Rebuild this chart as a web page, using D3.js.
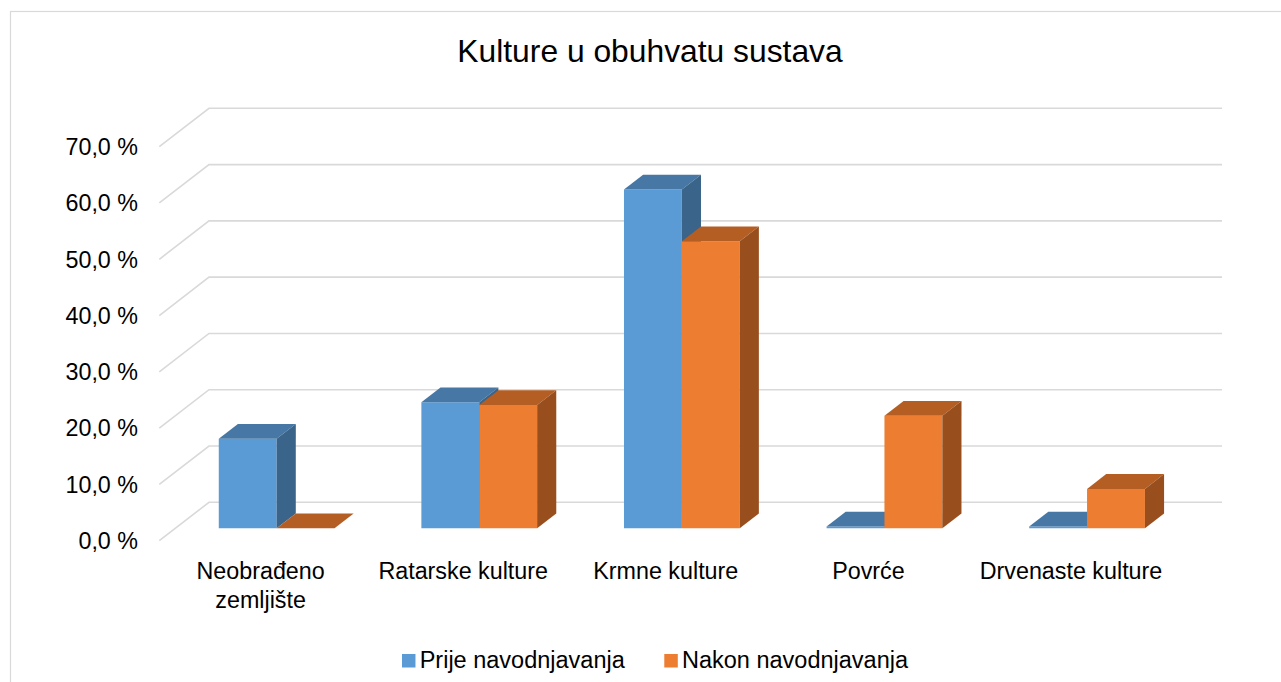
<!DOCTYPE html>
<html>
<head>
<meta charset="utf-8">
<script src="https://cdn.jsdelivr.net/npm/d3@7"></script>
<style>
    body { margin: 0; background: #fff; }
    svg text { font-family: "Liberation Sans", Arial, sans-serif; fill: #000; }
</style>
</head>
<body>
<svg id="chart" width="1281" height="682"></svg>
<script>
// Kulture u obuhvatu sustava — 3D clustered column chart

const categories = ['Neobrađeno zemljište', 'Ratarske kulture', 'Krmne kulture', 'Povrće', 'Drvenaste kulture'];
const seriesNames = ['Prije navodnjavanja', 'Nakon navodnjavanja'];
const prije = [15.9, 22.4, 60.2, 0.3, 0.3];
const nakon = [0, 21.9, 51.0, 20.0, 7.0];
const yTicks = [0, 10, 20, 30, 40, 50, 60, 70];

const WIDTH = 1281;
const HEIGHT = 682;

// oblique depth offset (front plane -> back wall)
const DX = 49.7;
const DY = 38.4;
// bars sit between these depth fractions
const Z0 = 0.323;
const Z1 = 0.708;

const colors = {
    'Prije navodnjavanja': { front: '#5b9bd5', top: '#4677a5', side: '#3a6489' },
    'Nakon navodnjavanja': { front: '#ed7d31', top: '#b55e23', side: '#994f1d' }
};

const svg = d3.select('#chart');

// outer chart border
svg.append('rect')
    .attr('x', 10.5).attr('y', 11.5)
    .attr('width', 1300).attr('height', 700)
    .attr('fill', 'none')
    .attr('stroke', '#d9d9d9')
    .attr('stroke-width', 1.2);

const x = d3.scaleBand()
    .domain(categories)
    .range([159.3, 1172.3])
    .padding(0);

const xSub = d3.scaleBand()
    .domain(seriesNames)
    .range([0, x.bandwidth()])
    .paddingInner(0)
    .paddingOuter(0.75);

const y = d3.scaleLinear()
    .domain([0, 70])
    .range([540.7, 146.7]);

const P = (px, v, z) => [px + z * DX, y(v) - z * DY];
const poly = pts => 'M' + pts.map(p => p[0].toFixed(2) + ',' + p[1].toFixed(2)).join('L') + 'Z';

const commaFmt = d3.formatLocale({ decimal: ',', thousands: '.', grouping: [3], currency: ['', ''] }).format('.1f');

// gridlines: side wall diagonal + back wall
const x0 = x.range()[0];
const x1 = x.range()[1];
svg.append('g')
    .selectAll('path')
    .data(yTicks)
    .join('path')
    .attr('d', t => {
        const a = P(x0, t, 0), b = P(x0, t, 1), c = P(x1, t, 1);
        return `M${a[0]},${a[1]}L${b[0]},${b[1]}L${c[0]},${c[1]}`;
    })
    .attr('fill', 'none')
    .attr('stroke', '#d9d9d9')
    .attr('stroke-width', 1.6);

// y labels
svg.append('g')
    .selectAll('text')
    .data(yTicks)
    .join('text')
    .attr('x', 138)
    .attr('y', t => y(t) + 8.3)
    .attr('text-anchor', 'end')
    .style('font-size', '23.3px')
    .text(t => commaFmt(t) + ' %');

// bars
const bars = [];
categories.forEach((c, i) => {
    bars.push({ cat: c, series: seriesNames[0], value: prije[i] });
    bars.push({ cat: c, series: seriesNames[1], value: nakon[i] });
});

const barG = svg.append('g');
bars.forEach(d => {
    const left = x(d.cat) + xSub(d.series);
    const right = left + xSub.bandwidth();
    const col = colors[d.series];
    const g = barG.append('g');
    // front face
    if (d.value > 0) {
        g.append('path')
            .attr('d', poly([P(left, 0, Z0), P(right, 0, Z0), P(right, d.value, Z0), P(left, d.value, Z0)]))
            .attr('fill', col.front);
    }
    // top face
    g.append('path')
        .attr('d', poly([P(left, d.value, Z0), P(right, d.value, Z0), P(right, d.value, Z1), P(left, d.value, Z1)]))
        .attr('fill', col.top);
    // side face
    if (d.value > 0) {
        g.append('path')
            .attr('d', poly([P(right, 0, Z0), P(right, 0, Z1), P(right, d.value, Z1), P(right, d.value, Z0)]))
            .attr('fill', col.side);
    }
});

// category labels
const catG = svg.append('g')
    .selectAll('text')
    .data(categories)
    .join('text')
    .attr('x', d => x(d) + x.bandwidth() / 2)
    .attr('y', 578.6)
    .attr('text-anchor', 'middle')
    .style('font-size', '23.3px')
    .each(function (d) {
        const el = d3.select(this);
        const cx = x(d) + x.bandwidth() / 2;
        const words = d.split(' ');
        let line = [];
        let tspan = el.append('tspan').attr('x', cx).attr('dy', 0);
        let lineNo = 0;
        words.forEach(w => {
            line.push(w);
            tspan.text(line.join(' '));
            if (tspan.node().getComputedTextLength() > 195 && line.length > 1) {
                line.pop();
                tspan.text(line.join(' '));
                line = [w];
                lineNo++;
                tspan = el.append('tspan').attr('x', cx).attr('dy', 29.3).text(w);
            }
        });
    });

// title
svg.append('text')
    .attr('x', 650)
    .attr('y', 61.7)
    .attr('text-anchor', 'middle')
    .style('font-size', '31.8px')
    .text('Kulture u obuhvatu sustava');

// legend
const legend = svg.append('g');
let lx = 0;
seriesNames.forEach((s, i) => {
    const item = legend.append('g').attr('transform', `translate(${lx},0)`);
    item.append('rect')
        .attr('x', 0).attr('y', 654)
        .attr('width', 13.5).attr('height', 13.5)
        .attr('fill', colors[s].front);
    const t = item.append('text')
        .attr('x', 17.7)
        .attr('y', 667.5)
        .style('font-size', '23.5px')
        .text(s);
    lx += 17.7 + t.node().getComputedTextLength() + 39.5;
});
const legendW = lx - 39.5;
legend.attr('transform', `translate(${655 - legendW / 2},0)`);
</script>
</body>
</html>
